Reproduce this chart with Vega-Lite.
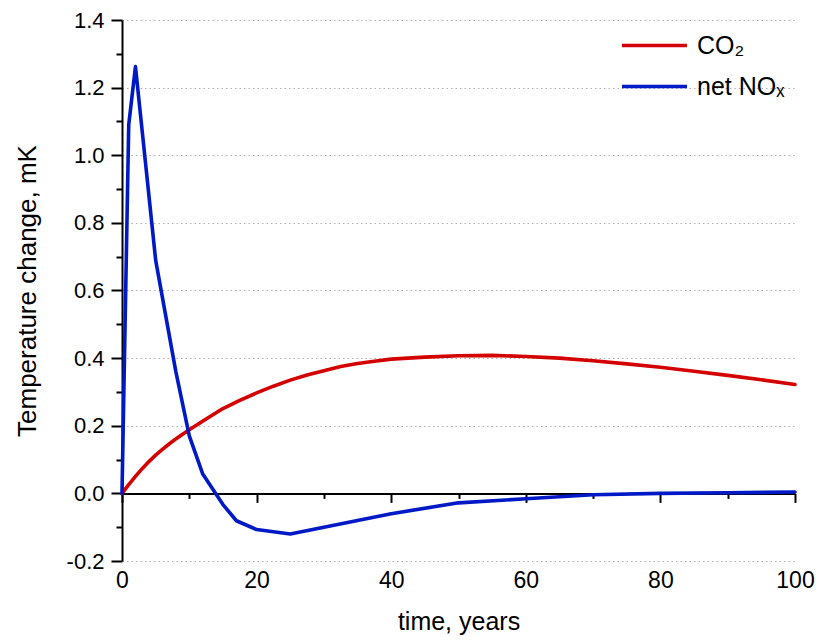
{
  "$schema": "https://vega.github.io/schema/vega-lite/v6.json",
  "width": 673,
  "height": 541,
  "autosize": {"type": "none"},
  "padding": {"left": 122, "top": 20, "right": 24, "bottom": 82},
  "background": "white",
  "config": {
    "view": {"stroke": null},
    "font": "Liberation Sans",
    "axis": {"labelFont": "Liberation Sans", "titleFont": "Liberation Sans", "labelColor": "black", "titleColor": "black", "titleFontWeight": "normal"}
  },
  "data": {
    "values": [
      {"t": 0, "v": 0, "s": "CO₂"},
      {"t": 1, "v": 0.026, "s": "CO₂"},
      {"t": 2, "v": 0.05, "s": "CO₂"},
      {"t": 3, "v": 0.073, "s": "CO₂"},
      {"t": 4, "v": 0.094, "s": "CO₂"},
      {"t": 5, "v": 0.113, "s": "CO₂"},
      {"t": 6, "v": 0.13, "s": "CO₂"},
      {"t": 7, "v": 0.146, "s": "CO₂"},
      {"t": 8, "v": 0.161, "s": "CO₂"},
      {"t": 9, "v": 0.175, "s": "CO₂"},
      {"t": 10, "v": 0.188, "s": "CO₂"},
      {"t": 12.5, "v": 0.22, "s": "CO₂"},
      {"t": 15, "v": 0.251, "s": "CO₂"},
      {"t": 17.5, "v": 0.275, "s": "CO₂"},
      {"t": 20, "v": 0.297, "s": "CO₂"},
      {"t": 22.5, "v": 0.317, "s": "CO₂"},
      {"t": 25, "v": 0.335, "s": "CO₂"},
      {"t": 27.5, "v": 0.35, "s": "CO₂"},
      {"t": 30, "v": 0.363, "s": "CO₂"},
      {"t": 32.5, "v": 0.375, "s": "CO₂"},
      {"t": 35, "v": 0.384, "s": "CO₂"},
      {"t": 37.5, "v": 0.391, "s": "CO₂"},
      {"t": 40, "v": 0.397, "s": "CO₂"},
      {"t": 45, "v": 0.403, "s": "CO₂"},
      {"t": 50, "v": 0.407, "s": "CO₂"},
      {"t": 55, "v": 0.408, "s": "CO₂"},
      {"t": 60, "v": 0.405, "s": "CO₂"},
      {"t": 65, "v": 0.4, "s": "CO₂"},
      {"t": 70, "v": 0.392, "s": "CO₂"},
      {"t": 75, "v": 0.383, "s": "CO₂"},
      {"t": 80, "v": 0.373, "s": "CO₂"},
      {"t": 85, "v": 0.361, "s": "CO₂"},
      {"t": 90, "v": 0.349, "s": "CO₂"},
      {"t": 95, "v": 0.336, "s": "CO₂"},
      {"t": 100, "v": 0.322, "s": "CO₂"},
      {"t": 0, "v": 0, "s": "net NOₓ"},
      {"t": 1, "v": 1.09, "s": "net NOₓ"},
      {"t": 2, "v": 1.262, "s": "net NOₓ"},
      {"t": 5, "v": 0.69, "s": "net NOₓ"},
      {"t": 8, "v": 0.36, "s": "net NOₓ"},
      {"t": 10, "v": 0.17, "s": "net NOₓ"},
      {"t": 12, "v": 0.057, "s": "net NOₓ"},
      {"t": 15, "v": -0.033, "s": "net NOₓ"},
      {"t": 17, "v": -0.081, "s": "net NOₓ"},
      {"t": 20, "v": -0.107, "s": "net NOₓ"},
      {"t": 25, "v": -0.12, "s": "net NOₓ"},
      {"t": 30, "v": -0.1, "s": "net NOₓ"},
      {"t": 40, "v": -0.06, "s": "net NOₓ"},
      {"t": 50, "v": -0.028, "s": "net NOₓ"},
      {"t": 60, "v": -0.016, "s": "net NOₓ"},
      {"t": 70, "v": -0.004, "s": "net NOₓ"},
      {"t": 80, "v": 0.0, "s": "net NOₓ"},
      {"t": 90, "v": 0.002, "s": "net NOₓ"},
      {"t": 100, "v": 0.004, "s": "net NOₓ"}
    ]
  },
  "layer": [
    {
      "mark": {"type": "line", "opacity": 0},
      "encoding": {
        "x": {"field": "t", "type": "quantitative", "scale": {"domain": [0, 100], "nice": false, "zero": false},
          "axis": {"orient": "bottom", "offset": -67.6, "values": [10, 30, 50, 70, 90], "labels": false, "domain": false, "grid": false, "tickSize": 5, "tickWidth": 2, "tickColor": "black", "title": null}},
        "y": {"field": "v", "type": "quantitative", "scale": {"domain": [-0.2, 1.4], "nice": false, "zero": false},
          "axis": {"orient": "left", "values": [-0.1, 0.1, 0.3, 0.5, 0.7, 0.9, 1.1, 1.3], "labels": false, "domain": false, "grid": false, "tickSize": 6, "tickWidth": 2, "tickColor": "black", "title": null}},
        "detail": {"field": "s", "type": "nominal"}
      }
    },
    {
      "mark": {"type": "line", "strokeWidth": 3.6, "strokeCap": "round", "strokeJoin": "round"},
      "encoding": {
        "x": {"field": "t", "type": "quantitative",
          "axis": {"orient": "bottom", "offset": -67.6, "values": [0, 20, 40, 60, 80, 100], "labelFlush": false, "domainColor": "black", "domainWidth": 2, "tickColor": "black", "tickWidth": 2, "tickSize": 9, "labelPadding": 67, "labelFontSize": 23, "grid": false, "title": "time, years", "titleFontSize": 25, "titlePadding": 17}},
        "y": {"field": "v", "type": "quantitative",
          "axis": {"orient": "left", "values": [-0.2, 0, 0.2, 0.4, 0.6, 0.8, 1.0, 1.2, 1.4], "format": ".1f", "labelExpr": "replace(datum.label, '−', '-')", "domainColor": "black", "domainWidth": 2, "tickColor": "black", "tickWidth": 2, "tickSize": 11, "labelPadding": 7, "labelFontSize": 22, "grid": true, "gridDash": [1.5, 3], "gridColor": "#b0b0b0", "gridWidth": 1, "title": "Temperature change, mK", "titleFontSize": 26, "titlePadding": 26}},
        "color": {"field": "s", "type": "nominal", "scale": {"domain": ["CO₂", "net NOₓ"], "range": ["#d40000", "#0019c6"]},
          "legend": {"orient": "none", "legendX": 514, "legendY": 7, "title": null, "symbolType": "M-2,0H2", "symbolSize": 1056, "symbolStrokeWidth": 3.6, "labelFontSize": 25, "labelFont": "Liberation Sans", "labelColor": "black", "rowPadding": 9, "labelOffset": 24}}
      }
    }
  ],
  "resolve": {"axis": {"x": "independent", "y": "independent"}}
}
